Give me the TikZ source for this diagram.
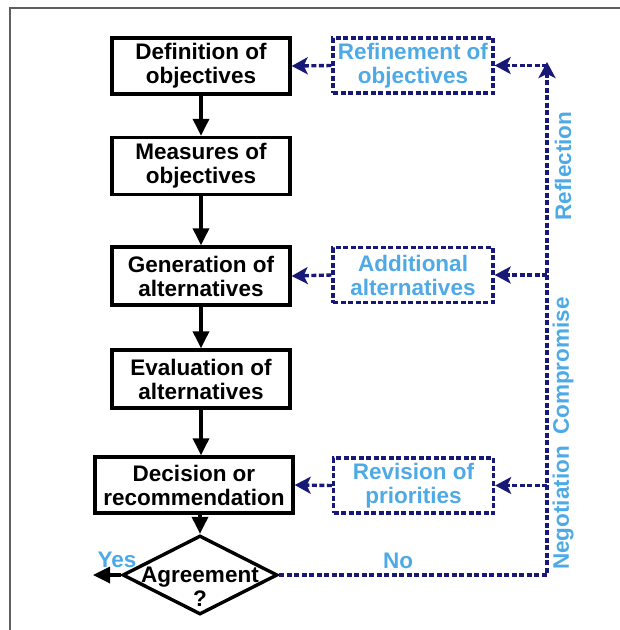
\documentclass[tikz,border=0pt]{standalone}
\usepackage{fontspec}
\setmainfont{Liberation Sans}
\usetikzlibrary{arrows.meta,shapes.geometric}
\definecolor{navyc}{RGB}{24,24,118}
\definecolor{bluet}{RGB}{78,170,230}
\definecolor{framec}{RGB}{95,95,95}
\newcommand\txtf{\bfseries\fontsize{22.5}{24}\selectfont}
\tikzset{
  blk/.style={draw=black, line width=3.4pt, fill=white, minimum width=178pt,
    minimum height=56pt, align=center, inner sep=0pt, font=\txtf},
  blu/.style={draw=navyc, line width=3.4pt, dash pattern=on 5pt off 2.5pt,
    minimum width=160pt, minimum height=55pt, align=center, inner sep=0pt,
    text=bluet, font=\txtf},
  blkarrow/.style={draw=black, line width=3.4pt, -{Triangle[length=17pt,width=16pt]}},
  navyline/.style={draw=navyc, line width=3.4pt, dash pattern=on 5pt off 2.5pt},
  navyarrow/.style={navyline, -{Stealth[length=16pt,width=17pt,inset=4pt]}},
  bluelabel/.style={text=bluet, font=\txtf, inner sep=0pt},
}
\begin{document}
\begin{tikzpicture}[x=1pt,y=-1pt]
\useasboundingbox (0,0) rectangle (620,630);
% frame
\draw[framec, line width=2.5pt] (10,630) -- (10,8) -- (620,8);

% main boxes
\node[blk] (def) at (201,66) {Definition of\\objectives};
\node[blk, minimum height=57pt] (meas) at (201,166) {Measures of\\objectives};
\node[blk, minimum height=58pt] (gen) at (201,276) {Generation of\\alternatives};
\node[blk, minimum height=58pt] (eval) at (201,379) {Evaluation of\\alternatives};
\node[blk, minimum width=198pt] (dec) at (194,485) {Decision or\\recommendation};
\node[draw=black, line width=3.4pt, diamond, minimum width=155pt, minimum height=79pt,
  inner sep=0pt] (agr) at (200,575) {};
\node[font=\txtf, align=center, inner sep=0pt] (agrtxt) at (200,587) {Agreement\\?};

% dashed boxes
\node[blu] (ref) at (413,65.5) {Refinement of\\objectives};
\node[blu] (add) at (413,275) {Additional\\alternatives};
\node[blu] (rev) at (413.5,485.5) {Revision of\\priorities};

% black arrows
\draw[blkarrow] (def.south) -- (meas.north);
\draw[blkarrow] (meas.south) -- (gen.north);
\draw[blkarrow] (gen.south) -- (eval.north);
\draw[blkarrow] (eval.south) -- (eval.south |- dec.north);
\draw[blkarrow] (agr.north |- dec.south) -- (agr.north);
\coordinate (yesend) at (93,575);
\draw[blkarrow] (agr.west) -- (yesend);

% feedback loop
\coordinate (corner) at (547,575);
\coordinate (top) at (547,62);
\draw[navyarrow] (agr.east) -- (corner) -- (top);
\draw[navyarrow] (top |- ref.east) -- (ref.east);
\draw[navyarrow] (top |- add.east) -- (add.east);
\draw[navyarrow] (top |- rev.east) -- (rev.east);
\draw[navyarrow] (ref.west) -- (def.east);
\draw[navyarrow] (add.west) -- (gen.east);
\draw[navyarrow] (rev.west) -- (dec.east);

% labels
\node[bluelabel] (yes) at (117,560) {Yes};
\node[bluelabel] (no) at (398,561) {No};
\node[bluelabel, rotate=90] (refl) at (563,166) {Reflection};
\node[bluelabel, rotate=90] (comp) at (563,366) {Compromise};
\node[bluelabel, rotate=90] (nego) at (563,508) {Negotiation};
\end{tikzpicture}
\end{document}
